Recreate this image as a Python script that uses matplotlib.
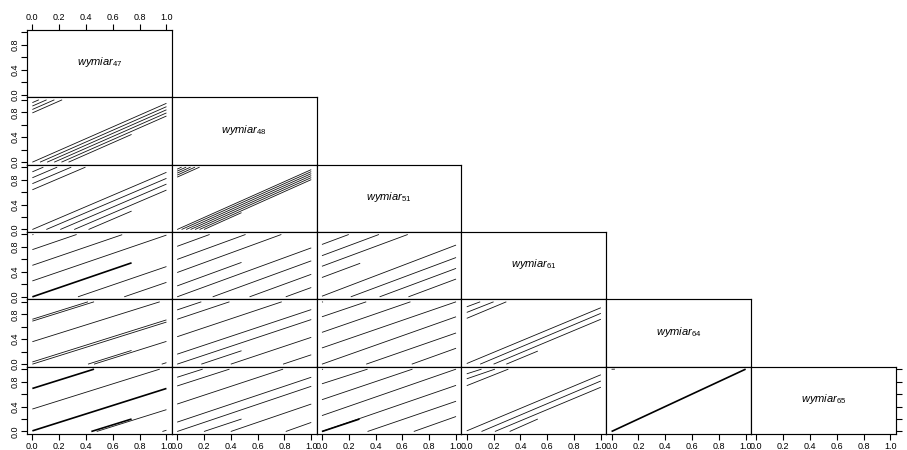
import matplotlib
matplotlib.use('Agg')
import matplotlib.pyplot as plt

plt.rcParams['font.family'] = ['Liberation Sans', 'DejaVu Sans']
plt.rcParams['mathtext.fontset'] = 'custom'
plt.rcParams['mathtext.it'] = 'Liberation Sans:italic'
plt.rcParams['mathtext.rm'] = 'Liberation Sans'

dims = ['47', '48', '51', '61', '64', '65']
ticks = [0.0, 0.2, 0.4, 0.6, 0.8, 1.0]
x_labels = ['0.0', '0.2', '0.4', '0.6', '0.8', '1.0']
y_labels = ['0.0', '', '0.4', '', '0.8', '']

# segments (x0, y0, x1, y1), row dim vs column dim
seg_48_47 = [(0, 0, 1, 0.944), (0.057, 0, 1, 0.89), (0.11, 0, 1, 0.84),
             (0.163, 0, 1, 0.79), (0.217, 0, 1, 0.74), (0.27, 0, 0.74, 0.445),
             (0, 0.79, 0.222, 1.0), (0, 0.845, 0.164, 1.0), (0, 0.9, 0.106, 1.0),
             (0, 0.955, 0.048, 1.0)]
seg_51_47 = [(0, 0, 1, 0.917), (0.104, 0, 1, 0.82), (0.208, 0, 1, 0.728),
             (0.312, 0, 1, 0.632), (0.419, 0, 0.74, 0.295),
             (0, 0.637, 0.396, 1.0), (0, 0.735, 0.29, 1.0), (0, 0.83, 0.185, 1.0),
             (0, 0.925, 0.082, 1.0)]
seg_51_48 = [(0, 0, 1, 0.96), (0.033, 0, 1, 0.928), (0.067, 0, 1, 0.896),
             (0.1, 0, 1, 0.864), (0.133, 0, 1, 0.832), (0.167, 0, 1, 0.8),
             (0.2, 0, 0.48, 0.27),
             (0, 0.84, 0.167, 1.0), (0, 0.872, 0.133, 1.0), (0, 0.904, 0.1, 1.0),
             (0, 0.936, 0.067, 1.0), (0, 0.968, 0.033, 1.0)]
seg_61_47 = [(0, 0.995, 0.008, 1.0), (0, 0.757, 0.33, 1.0), (0, 0.505, 0.67, 0.997),
             (0, 0.255, 1, 0.99), (0.34, 0, 1, 0.485), (0.685, 0, 1, 0.232)]
dense_61_47 = [(0, 0.0, 0.74, 0.545)]
seg_61_48 = [(0, 0.81, 0.242, 1.0), (0, 0.6, 0.51, 1.0), (0, 0.39, 0.777, 1.0),
             (0, 0.175, 0.48, 0.552), (0, 0.0, 1, 0.785), (0.265, 0, 1, 0.577),
             (0.54, 0, 1, 0.361), (0.81, 0, 1, 0.149)]
seg_61_51 = [(0, 0.84, 0.2, 1.0), (0, 0.66, 0.425, 1.0), (0, 0.49, 0.64, 1.0),
             (0, 0.31, 0.285, 0.538), (0, 0.01, 1, 0.83), (0.215, 0, 1, 0.63),
             (0.43, 0, 1, 0.456), (0.645, 0, 1, 0.285)]
seg_64_47 = [(0, 0.72, 0.415, 1.0), (0, 0.69, 0.46, 1.0), (0, 0.36, 0.95, 1.0),
             (0, 0.035, 1, 0.71), (0, 0.0, 1, 0.675), (0.415, 0, 0.74, 0.22),
             (0.46, 0, 1, 0.365), (0.965, 0, 1, 0.024)]
seg_64_48 = [(0, 0.87, 0.18, 1.0), (0, 0.72, 0.39, 1.0), (0, 0.44, 0.78, 1.0),
             (0, 0.16, 1, 0.875), (0, 0, 1, 0.715), (0.18, 0, 0.48, 0.215),
             (0.4, 0, 1, 0.43), (0.79, 0, 1, 0.15)]
seg_64_51 = [(0, 0.995, 0.008, 1.0), (0, 0.76, 0.33, 1.0), (0, 0.51, 0.66, 1.0),
             (0, 0.26, 1, 1.0), (0, 0, 1, 0.76), (0.33, 0, 1, 0.5),
             (0.67, 0, 1, 0.255)]
seg_64_61 = [(0, 0.92, 0.1, 1.0), (0, 0.83, 0.2, 1.0), (0, 0.735, 0.295, 1.0),
             (0, 0.01, 1, 0.905), (0.1, 0, 1, 0.815), (0.2, 0, 1, 0.72),
             (0.295, 0, 0.53, 0.21)]
seg_65_47 = [(0, 0.36, 0.95, 1.0), (0.48, 0, 1, 0.35), (0.97, 0, 1, 0.02)]
dense_65_47 = [(0, 0.69, 0.46, 1.0), (0, 0.01, 1, 0.69), (0.44, 0, 0.74, 0.2)]
seg_65_48 = [(0, 0.87, 0.19, 1.0), (0, 0.73, 0.39, 1.0), (0, 0.44, 0.79, 1.0),
             (0, 0.15, 1, 0.87), (0, 0, 1, 0.725), (0.2, 0, 0.48, 0.2),
             (0.4, 0, 1, 0.44), (0.81, 0, 1, 0.145)]
seg_65_51 = [(0, 0.995, 0.008, 1.0), (0, 0.765, 0.34, 1.0), (0, 0.51, 0.675, 1.0),
             (0, 0.255, 1, 1.0), (0, 0, 1, 0.74), (0.34, 0, 1, 0.485),
             (0.685, 0, 1, 0.24)]
dense_65_51 = [(0, 0, 0.28, 0.2)]
seg_65_61 = [(0, 0.925, 0.11, 1.0), (0, 0.845, 0.21, 1.0), (0, 0.735, 0.31, 1.0),
             (0, 0.01, 1, 0.91), (0.11, 0, 1, 0.81), (0.21, 0, 1, 0.71),
             (0.32, 0, 0.53, 0.2)]
seg_65_64 = [(0, 0.998, 0.025, 1.0)]
dense_65_64 = [(0, 0, 1, 1)]

panels = {
    (1, 0): (seg_48_47, []),
    (2, 0): (seg_51_47, []), (2, 1): (seg_51_48, []),
    (3, 0): (seg_61_47, dense_61_47), (3, 1): (seg_61_48, []), (3, 2): (seg_61_51, []),
    (4, 0): (seg_64_47, []), (4, 1): (seg_64_48, []), (4, 2): (seg_64_51, []),
    (4, 3): (seg_64_61, []),
    (5, 0): (seg_65_47, dense_65_47), (5, 1): (seg_65_48, []), (5, 2): (seg_65_51, dense_65_51),
    (5, 3): (seg_65_61, []), (5, 4): (seg_65_64, dense_65_64),
}

W, H = 907, 450
left0, top0, pw, ph = 27, 30, 144.8, 67.33

fig = plt.figure(figsize=(W / 100, H / 100), dpi=100)

for i in range(6):
    for j in range(i + 1):
        ax = fig.add_axes([(left0 + j * pw) / W, 1 - (top0 + (i + 1) * ph) / H, pw / W, ph / H])
        ax.set_xlim(-0.04, 1.04)
        ax.set_ylim(-0.04, 1.04)
        for s in ax.spines.values():
            s.set_linewidth(0.85)
        ax.tick_params(length=4, width=0.8, labelsize=6.5, pad=1.5, colors='black')
        ax.set_xticks([])
        ax.set_yticks([])
        if i == j:
            ax.text(0.5, 0.52, r'$wymiar_{%s}$' % dims[i], transform=ax.transAxes,
                    ha='center', va='center', fontsize=8)
        else:
            segs, dense = panels[(i, j)]
            for x0, y0, x1, y1 in segs:
                ax.plot([x0, x1], [y0, y1], color='#111111', lw=0.6, solid_capstyle='butt')
            for x0, y0, x1, y1 in dense:
                ax.plot([x0, x1], [y0, y1], color='black', lw=1.2, solid_capstyle='butt')
        if j == 0:
            ax.set_yticks(ticks)
            ax.set_yticklabels(y_labels, rotation=90, va='center')
        if i == 5:
            ax.set_xticks(ticks)
            ax.set_xticklabels(x_labels)
        if i == 0:
            ax.tick_params(top=True, labeltop=True)
            ax.set_xticks(ticks)
            ax.set_xticklabels(x_labels)
            ax.tick_params(bottom=False, labelbottom=False)
        if i == 5 and j == 5:
            ax.yaxis.tick_right()
            ax.set_yticks(ticks)
            ax.set_yticklabels([])

fig.savefig('out.png', dpi=100)
